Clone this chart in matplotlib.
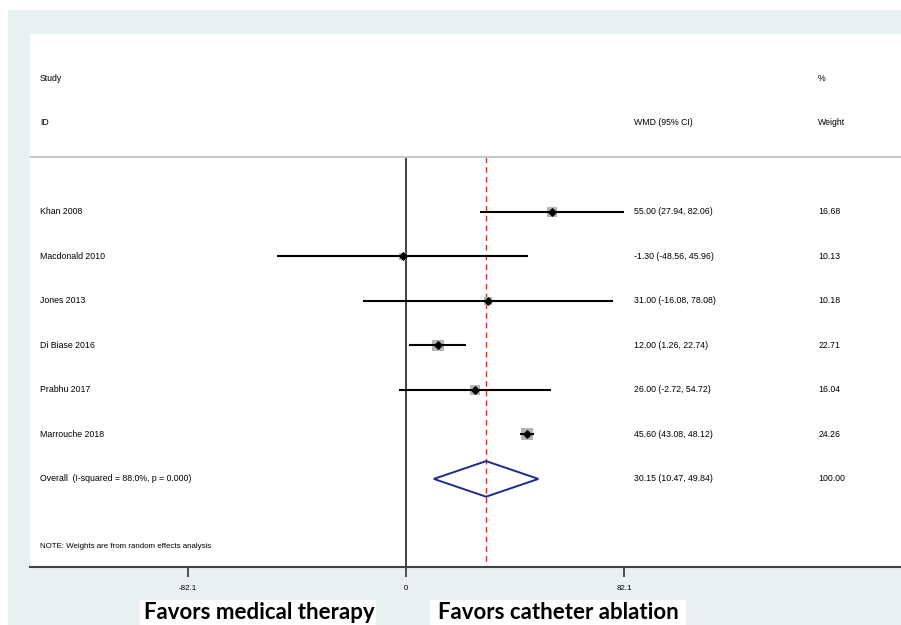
import numpy as np
import matplotlib.pyplot as plt
from matplotlib.patches import Polygon, Rectangle

plt.rcParams['font.family'] = ['Liberation Sans', 'DejaVu Sans']

# study-level weighted mean differences (95% CI) and random-effects weights
studies = ["Khan 2008", "Macdonald 2010", "Jones 2013", "Di Biase 2016",
           "Prabhu 2017", "Marrouche 2018"]
wmd = [55.00, -1.30, 31.00, 12.00, 26.00, 45.60]
ci_low = [27.94, -48.56, -16.08, 1.26, -2.72, 43.08]
ci_high = [82.06, 45.96, 78.08, 22.74, 54.72, 48.12]
weights = [16.68, 10.13, 10.18, 22.71, 16.04, 24.26]

overall_label = "Overall  (I-squared = 88.0%, p = 0.000)"
overall = 30.15
overall_low = 10.47
overall_high = 49.84

xticks = [-82.1, 0, 82.1]
note = "NOTE: Weights are from random effects analysis"

W, H = 901, 625
fig = plt.figure(figsize=(W / 100, H / 100), dpi=100)
fig.patch.set_facecolor('white')

# light backdrop behind the plot region
fig.patches.append(Rectangle((8 / W, 0), 1, 1 - 10 / H, transform=fig.transFigure,
                             facecolor='#e8f0f2', edgecolor='none', zorder=-10))

ax = fig.add_axes([30 / W, 1 - 567 / H, 1 - 30 / W, (567 - 34) / H])
ax.set_facecolor('white')

# x range covers the label columns as well as the effect scale
ax.set_xlim(-141.6, 186.4)
ax.set_ylim(8.98, -3.0)

rows = np.arange(1, len(studies) + 1)
top = -0.24
bottom = 8.98

# reference lines
ax.plot([0, 0], [top, bottom], color='#333333', lw=1.3, zorder=1)
ax.plot([overall, overall], [top, bottom], color='#c0392b', lw=1.0,
        ls=(0, (4, 3)), zorder=1)
ax.axhline(top, color='#c8c8c8', lw=1.5, zorder=1)

# weight boxes: side proportional to sqrt(weight)
side_px = 2.45 * np.sqrt(weights)
ax.scatter(wmd, rows, marker='s', s=(side_px * 0.72) ** 2, color='#b4b4b4',
           edgecolor='none', zorder=2)
ax.hlines(rows, ci_low, ci_high, color='black', lw=1.5, zorder=3)
ax.scatter(wmd, rows, marker='D', s=14, color='black', zorder=4)

# pooled estimate diamond
oy = len(studies) + 1
ax.add_patch(Polygon([[overall_low, oy], [overall, oy - 0.4],
                      [overall_high, oy], [overall, oy + 0.4]],
                     closed=True, fill=False, edgecolor='#1f2a8a', lw=1.4, zorder=3))

fs = 6.3
xl = ax.get_xlim()[0] + 3.8
xc = 85.8
xw = 155.2
ax.text(xl, -2, "Study", fontsize=fs, va='center')
ax.text(xl, -1, "ID", fontsize=fs, va='center')
ax.text(xc, -1, "WMD (95% CI)", fontsize=fs, va='center')
ax.text(xw, -2, "%", fontsize=fs, va='center')
ax.text(xw, -1, "Weight", fontsize=fs, va='center')

for r, name, m, lo, hi, w in zip(rows, studies, wmd, ci_low, ci_high, weights):
    ax.text(xl, r, name, fontsize=fs, va='center')
    ax.text(xc, r, f"{m:.2f} ({lo:.2f}, {hi:.2f})", fontsize=fs, va='center')
    ax.text(xw, r, f"{w:.2f}", fontsize=fs, va='center')

ax.text(xl, oy, overall_label, fontsize=fs, va='center')
ax.text(xc, oy, f"{overall:.2f} ({overall_low:.2f}, {overall_high:.2f})",
        fontsize=fs, va='center')
ax.text(xw, oy, f"{sum(weights):.2f}", fontsize=fs, va='center')
ax.text(xl, 8.53, note, fontsize=fs - 0.6, va='center')

for s in ['top', 'right', 'left']:
    ax.spines[s].set_visible(False)
ax.spines['bottom'].set_color('#444444')
ax.spines['bottom'].set_linewidth(1.5)
ax.set_yticks([])
ax.set_xticks(xticks)
ax.set_xticklabels([f"{t:g}" for t in xticks], fontsize=fs - 0.6)
ax.tick_params(axis='x', length=7, width=1.2, color='#333333', pad=6)

# direction captions on white boxes running off the bottom edge
fig.patches.append(Rectangle((140 / W, 0), 236 / W, 25 / H, transform=fig.transFigure,
                             facecolor='white', edgecolor='none'))
fig.patches.append(Rectangle((430 / W, 0), 256 / W, 25 / H, transform=fig.transFigure,
                             facecolor='white', edgecolor='none'))
fig.text(144 / W, 1 - 619 / H, "Favors medical therapy", family='Lato',
         weight='bold', fontsize=16, va='baseline', ha='left')
fig.text(438 / W, 1 - 619 / H, "Favors catheter ablation", family='Lato',
         weight='bold', fontsize=16, va='baseline', ha='left')

fig.savefig("out.png", dpi=100, facecolor=fig.get_facecolor())
